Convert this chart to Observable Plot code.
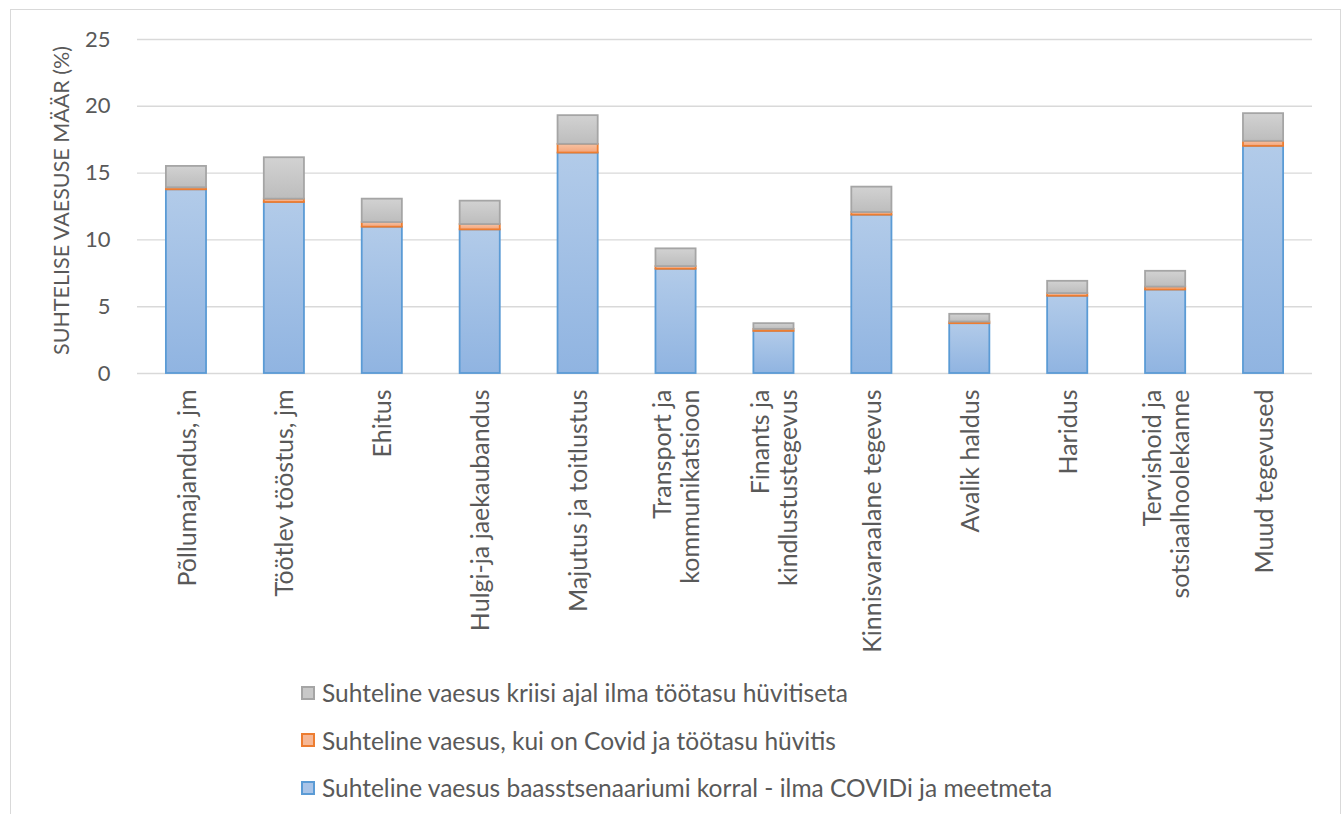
<!DOCTYPE html>
<html><head><meta charset="utf-8">
<script src="https://cdn.jsdelivr.net/npm/d3@7"></script>
<script src="https://cdn.jsdelivr.net/npm/@observablehq/plot@0.6"></script>
<style>
html,body{margin:0;padding:0;background:#fff;}
body{width:1341px;height:814px;overflow:hidden;position:relative;font-family:Lato,"Open Sans",sans-serif;}
#frame{position:absolute;left:10px;top:9px;width:1331px;height:840px;border:1px solid #d9d9d9;box-sizing:border-box;}
#chart{position:absolute;left:0;top:0;}
#legend{position:absolute;left:290px;top:659px;}
.row{display:flex;align-items:center;height:47.5px;font-size:24.5px;color:#595959;white-space:nowrap;}
.sw{width:14px;height:14px;border:2px solid;margin-right:7px;box-sizing:border-box;}
</style></head>
<body>
<div id="frame"><div id="chart"></div><div id="legend"></div></div>
<script>
const categories = ["Põllumajandus, jm","Töötlev tööstus, jm","Ehitus","Hulgi-ja jaekaubandus","Majutus ja toitlustus","Transport ja kommunikatsioon","Finants ja kindlustustegevus","Kinnisvaraalane tegevus","Avalik haldus","Haridus","Tervishoid ja sotsiaalhoolekanne","Muud tegevused"];
const tickLabels = ["Põllumajandus, jm","Töötlev tööstus, jm","Ehitus","Hulgi-ja jaekaubandus","Majutus ja toitlustus","Transport ja\nkommunikatsioon","Finants ja\nkindlustustegevus","Kinnisvaraalane tegevus","Avalik haldus","Haridus","Tervishoid ja\nsotsiaalhoolekanne","Muud tegevused"];
const seriesNames = ["Suhteline vaesus baasstsenaariumi korral - ilma COVIDi ja meetmeta","Suhteline vaesus, kui on Covid ja töötasu hüvitis","Suhteline vaesus kriisi ajal ilma töötasu hüvitiseta"];
// segment heights (stacked): baseline, increment with Covid+compensation, increment without compensation
const baseline = [13.75,12.8,10.95,10.75,16.5,7.8,3.15,11.85,3.73,5.78,6.25,17.0];
const covidComp = [0.15,0.25,0.35,0.4,0.65,0.2,0.15,0.2,0.12,0.2,0.22,0.38];
const noComp = [1.6,3.1,1.75,1.75,2.15,1.33,0.43,1.9,0.58,0.92,1.18,2.07];
const yTicks = [0,5,10,15,20,25];
const yTitle = "SUHTELISE VAESUSE MÄÄR (%)";
const fills = ["url(#gBlue)","url(#gOrange)","url(#gGray)"];
const strokes = ["#5b9bd5","#ed7d31","#a5a5a5"];
const swatchFill = ["#a9c4e8","#f6b896","#c8c8c8"];

const rows = [];
[baseline,covidComp,noComp].forEach((arr,s)=>arr.forEach((v,i)=>rows.push({cat:categories[i],series:seriesNames[s],v,s})));

const labelOf = new Map(categories.map((c,i)=>[c,tickLabels[i]]));

const plot = Plot.plot({
  width:1329, height:650,
  marginLeft:126, marginRight:28, marginTop:29, marginBottom:287,
  style:{fontFamily:"Lato, 'Open Sans', sans-serif", color:"#595959", background:"transparent"},
  x:{domain:categories, paddingInner:0.59, paddingOuter:0.295, round:false, label:null},
  y:{domain:[0,25], ticks:yTicks, label:null},
  marks:[
    Plot.ruleY(yTicks,{stroke:"#d9d9d9", strokeWidth:1.4}),
    Plot.barY(rows,{x:"cat", y:"v", z:"series", fill:d=>fills[d.s], stroke:d=>strokes[d.s], strokeWidth:1.8, order:null}),
    Plot.axisY(yTicks,{tickSize:0, tickPadding:27, fontSize:22, fill:"#595959", label:null}),
    Plot.axisX({tickSize:0, tickRotate:-90, tickPadding:16, fontSize:25, lineHeight:1.13, fill:"#595959", tickFormat:d=>labelOf.get(d), label:null}),
    Plot.text([yTitle],{frameAnchor:"left", dx:-75, dy:-6, rotate:-90, fontSize:21.5, fill:"#595959", textAnchor:"middle"})
  ]
});
document.getElementById("chart").appendChild(plot);
const svg = d3.select(plot);
const defs = svg.insert("defs",":first-child");
function grad(id, top, bottom){
  const g = defs.append("linearGradient").attr("id",id).attr("x1",0).attr("y1",0).attr("x2",0).attr("y2",1);
  g.append("stop").attr("offset","0%").attr("stop-color",top);
  g.append("stop").attr("offset","100%").attr("stop-color",bottom);
}
grad("gBlue","#b2cbe9","#90b4e1");
grad("gOrange","#f7c2a3","#f3a57b");
grad("gGray","#d2d2d2","#bdbdbd");

const legend = d3.select("#legend");
[2,1,0].forEach(s=>{
  const r = legend.append("div").attr("class","row");
  r.append("div").attr("class","sw").style("background",swatchFill[s]).style("border-color",strokes[s]);
  r.append("span").text(seriesNames[s]);
});
</script>
</body></html>
